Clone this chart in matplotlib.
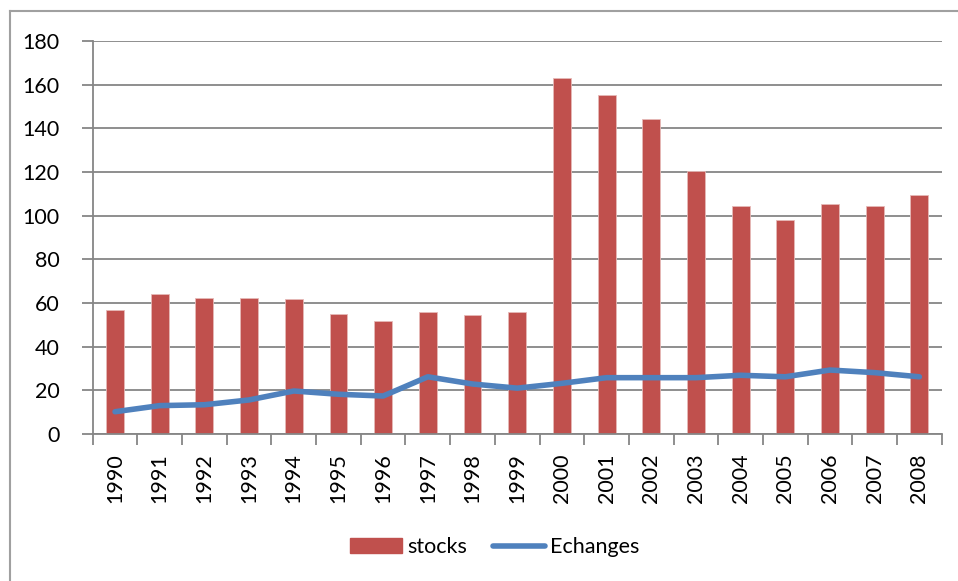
import matplotlib
matplotlib.use("Agg")
import matplotlib.pyplot as plt
from matplotlib.lines import Line2D
from matplotlib.patches import Patch
import numpy as np

years = ["1990", "1991", "1992", "1993", "1994", "1995", "1996", "1997", "1998", "1999",
         "2000", "2001", "2002", "2003", "2004", "2005", "2006", "2007", "2008"]
stocks = [56.7, 64.2, 62.2, 62.1, 61.8, 54.9, 51.9, 55.7, 54.6, 55.7,
          163.2, 155.3, 144.2, 120.4, 104.5, 98.2, 105.3, 104.6, 109.4]
echanges = [10.2, 13.0, 13.4, 15.6, 19.7, 18.2, 17.4, 26.2, 22.9, 21.0,
            23.2, 25.8, 25.8, 25.8, 26.9, 26.2, 29.3, 28.1, 26.2]
yticks = [0, 20, 40, 60, 80, 100, 120, 140, 160, 180]

plt.rcParams['font.family'] = ['Lato', 'DejaVu Sans']

W, H = 958, 581
fig = plt.figure(figsize=(W / 100, H / 100), dpi=100)
ax = fig.add_axes([92.7 / W, 1 - 434 / H, (941.7 - 92.7) / W, (434 - 41) / H])

bar_c = "#C0504D"
line_c = "#4F81BD"
grid_c = "#868686"

x = np.arange(len(years))
ax.bar(x, stocks, width=0.4, color=bar_c, edgecolor="#E6B9B8", linewidth=0.6, zorder=2)
ax.plot(x, echanges, color=line_c, linewidth=4.0, solid_joinstyle="round",
        solid_capstyle="round", zorder=3)

ax.set_xlim(-0.5, len(years) - 0.5)
ax.set_ylim(0, 180)
ax.set_yticks(yticks)
ax.set_yticklabels([str(v) for v in yticks], fontsize=15.5)
ax.yaxis.grid(True, color=grid_c, linewidth=1.3, zorder=0)
ax.set_axisbelow(True)

ax.set_xticks(x)
ax.set_xticklabels(years, rotation=90, fontsize=15.5)
ax.set_xticks(np.arange(-0.5, len(years)), minor=True)
ax.tick_params(axis='x', which='major', length=0, pad=14)
ax.tick_params(axis='x', which='minor', length=8, width=1.3, color=grid_c)
ax.tick_params(axis='y', length=8, width=1.3, color=grid_c, pad=16)

for s in ['top', 'right']:
    ax.spines[s].set_visible(False)
for s in ['left', 'bottom']:
    ax.spines[s].set_color(grid_c)
    ax.spines[s].set_linewidth(1.3)

handles = [Patch(facecolor=bar_c, edgecolor=bar_c),
           Line2D([0], [0], color=line_c, linewidth=4.0, solid_capstyle="round")]
fig.legend(handles, ["stocks", "Echanges"], loc="center", ncol=2,
           bbox_to_anchor=(495 / W, 1 - 547 / H), frameon=False, fontsize=15.5,
           handlelength=2.4, handleheight=0.65, handletextpad=0.25, columnspacing=1.2)

# outer chart frame
fig.add_artist(Line2D([10 / W, 10 / W], [0, 1 - 11 / H], color="#A0A0A0", linewidth=1.5,
                      transform=fig.transFigure))
fig.add_artist(Line2D([10 / W, 1], [1 - 11 / H, 1 - 11 / H], color="#A0A0A0", linewidth=1.5,
                      transform=fig.transFigure))

fig.savefig("out.png", dpi=100)
